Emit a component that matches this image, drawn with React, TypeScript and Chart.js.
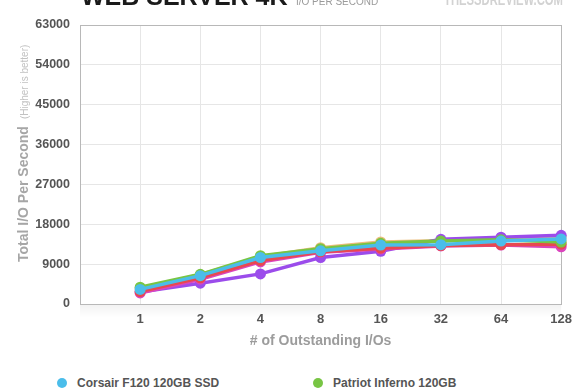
import React, { useEffect, useRef } from "react";
import { Chart, registerables } from "chart.js";

Chart.register(...registerables);

// ---- data ----
const categories = ["", "1", "2", "4", "8", "16", "32", "64", "128"];

const seriesNames = [
  "Corsair F120 120GB SSD",
  "Patriot Inferno 120GB",
  "OCZ Vertex 2 120GB",
  "Mushkin Callisto Deluxe 120GB",
  "OWC Mercury Extreme Pro 120GB",
  "G.Skill Phoenix Pro 120GB",
];

const seriesColors = ["#4bbdea", "#78c544", "#e8494f", "#db45be", "#9b4ceb", "#ebbd7c"];

const corsairF120 = [null, 3300, 6400, 10500, 12000, 13300, 13400, 14200, 14700];
const patriotInferno = [null, 3800, 6700, 10900, 12500, 13700, 14200, 14500, 14000];
const oczVertex2 = [null, 2800, 5900, 9800, 11800, 12600, 13200, 13400, 13500];
const mushkinCallisto = [null, 2500, 5600, 9500, 11700, 12400, 13100, 13300, 12900];
const owcMercury = [null, 2700, 4700, 6800, 10500, 11900, 14600, 15100, 15500];
const gskillPhoenix = [null, 3500, 6600, 10700, 12700, 14000, 14300, 14900, 15200];

const seriesValues = [corsairF120, patriotInferno, oczVertex2, mushkinCallisto, owcMercury, gskillPhoenix];

const yMin = 0;
const yMax = 63000;
const yStep = 9000;

const chartTitle = "WEB SERVER 4K";
const chartSubtitle = "I/O PER SECOND";
const logoText = "THESSDREVIEW.COM";
const yTitleMain = "Total I/O Per Second";
const yTitleNote = "(Higher is better)";
const xTitle = "# of Outstanding I/Os";

const FONT = "'Liberation Sans', Arial, Helvetica, sans-serif";

const decorPlugin = {
  id: "decor",
  beforeDatasetsDraw(chart: any) {
    const { ctx, chartArea } = chart;
    // faint shadow below the frame
    ctx.save();
    const g = ctx.createLinearGradient(0, chartArea.bottom, 0, chartArea.bottom + 14);
    g.addColorStop(0, "rgba(0,0,0,0.05)");
    g.addColorStop(1, "rgba(0,0,0,0)");
    ctx.fillStyle = g;
    ctx.fillRect(chartArea.left, chartArea.bottom + 1, chartArea.right - chartArea.left, 14);
    ctx.restore();
  },
  afterDraw(chart: any) {
    const { ctx, chartArea } = chart;
    ctx.save();
    // header
    ctx.textBaseline = "alphabetic";
    ctx.textAlign = "left";
    ctx.fillStyle = "#1a1a1a";
    ctx.font = `bold 25px ${FONT}`;
    ctx.fillText(chartTitle, chartArea.left + 1, 5);
    ctx.fillStyle = "#9a9a9a";
    ctx.font = `10px ${FONT}`;
    ctx.fillText(chartSubtitle, 296, 5);
    ctx.fillStyle = "#d2d2d2";
    ctx.font = `bold 17px ${FONT}`;
    ctx.fillText(logoText, 444, 5, 119);

    // y-axis title (two styles)
    ctx.translate(24, chartArea.bottom - 42);
    ctx.rotate(-Math.PI / 2);
    ctx.textBaseline = "middle";
    ctx.font = `bold 14px ${FONT}`;
    ctx.fillStyle = "#a6a6a6";
    ctx.fillText(yTitleMain, 0, 0);
    const w = ctx.measureText(yTitleMain).width;
    ctx.font = `10px ${FONT}`;
    ctx.fillStyle = "#c2c2c2";
    ctx.fillText(yTitleNote, w + 7, 1);
    ctx.restore();
  },
};

function ChartCanvas() {
  const ref = useRef<HTMLCanvasElement | null>(null);
  useEffect(() => {
    if (!ref.current) return;
    const chart = new Chart(ref.current, {
      type: "line",
      data: {
        labels: categories,
        datasets: seriesValues.map((vals, i) => ({
          label: seriesNames[i],
          data: vals,
          borderColor: seriesColors[i],
          backgroundColor: seriesColors[i],
          pointBackgroundColor: seriesColors[i],
          pointBorderWidth: 0,
          pointRadius: 5.5,
          pointHoverRadius: 5.5,
          borderWidth: 3.5,
          tension: 0,
          fill: false,
          clip: false as any,
        })),
      },
      options: {
        responsive: false,
        animation: false,
        devicePixelRatio: 1,
        layout: { padding: { left: 0, right: 18, top: 25, bottom: 0 } },
        plugins: {
          legend: { display: false },
          title: { display: false },
          tooltip: { enabled: false },
        },
        scales: {
          x: {
            type: "category",
            offset: false,
            grid: {
              drawTicks: false,
              color: (c: any) => (c.index === categories.length - 1 ? "#b8b8b8" : "#e6e6e6"),
              lineWidth: 1,
            },
            border: { color: "#b8b8b8", width: 1 },
            ticks: {
              padding: 8,
              color: "#555",
              font: { family: FONT, size: 13, weight: "bold" },
              maxRotation: 0,
              autoSkip: false,
            },
            title: {
              display: true,
              text: xTitle,
              color: "#9c9c9c",
              font: { family: FONT, size: 14, weight: "bold" },
              padding: { top: 0, bottom: 10 },
            },
            afterFit: (s: any) => {
              s.height = 56;
            },
          },
          y: {
            min: yMin,
            max: yMax,
            grid: {
              drawTicks: false,
              color: (c: any) => (c.tick && c.tick.value === yMax ? "#b8b8b8" : "#e6e6e6"),
              lineWidth: 1,
            },
            border: { color: "#b8b8b8", width: 1 },
            ticks: {
              stepSize: yStep,
              padding: 10,
              color: "#555",
              font: { family: FONT, size: 12.5, weight: "bold" },
              callback: (v: any) => String(v),
            },
            afterFit: (s: any) => {
              s.width = 80;
            },
          },
        },
      },
      plugins: [decorPlugin],
    });
    return () => chart.destroy();
  }, []);
  return <canvas ref={ref} width={580} height={360} style={{ position: "absolute", left: 0, top: 0 }} />;
}

export default function App() {
  return (
    <div
      style={{
        position: "absolute",
        left: 0,
        top: 0,
        width: 580,
        height: 390,
        overflow: "hidden",
        background: "#fff",
      }}
    >
      <ChartCanvas />
      {seriesNames.map((name, i) => {
        const col = i % 2;
        const row = Math.floor(i / 2);
        return (
          <div
            key={name}
            style={{
              position: "absolute",
              left: 57 + col * 256,
              top: 377 + row * 22,
              height: 12,
              display: "flex",
              alignItems: "center",
              whiteSpace: "nowrap",
            }}
          >
            <span
              style={{
                display: "inline-block",
                width: 10,
                height: 10,
                borderRadius: "50%",
                background: seriesColors[i],
                marginRight: 10,
              }}
            />
            <span style={{ font: `bold 12px ${FONT}`, color: "#555" }}>{name}</span>
          </div>
        );
      })}
    </div>
  );
}
